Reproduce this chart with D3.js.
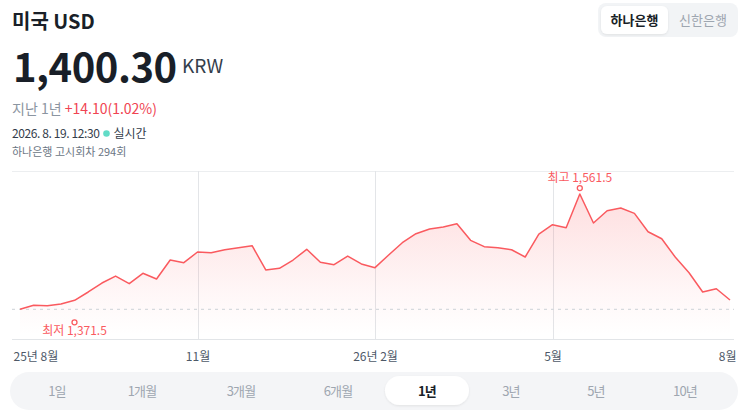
<!doctype html>
<meta charset="utf-8">
<title>미국 USD</title>
<script src="https://cdn.jsdelivr.net/npm/d3@7/dist/d3.min.js"></script>
<style>
  html, body { margin: 0; padding: 0; background: #fff; }
  svg { display: block; font-family: "Noto Sans CJK KR", "Noto Sans", sans-serif; }
</style>
<body>
<script>
// weekly rate, 25.8.19 ~ 26.8.18 (KRW per USD)
var startDate = "2025-08-19";
var rates = [
  1371.5, 1378.1, 1377.4, 1380.2, 1386.3, 1400.0, 1414.8, 1426.3, 1413.7, 1430.8,
  1421.4, 1452.7, 1448.3, 1465.9, 1464.8, 1469.7, 1473.0, 1476.3, 1436.3, 1439.1,
  1452.7, 1470.4, 1449.0, 1445.0, 1459.3, 1446.2, 1440.1, 1461.0, 1481.3, 1496.1,
  1503.8, 1507.1, 1512.6, 1485.2, 1474.7, 1473.0, 1469.7, 1457.7, 1495.6, 1510.9,
  1506.0, 1561.5, 1513.7, 1534.0, 1538.4, 1529.7, 1499.4, 1487.8, 1457.2, 1431.8,
  1400.0, 1405.4, 1386.8
];
var tickDates = ["2025-08-19", "2025-11-18", "2026-02-17", "2026-05-19", "2026-08-18"];
var tickLabels = ["25년 8월", "11월", "26년 2월", "5월", "8월"];
var yDomain = [1322, 1599.5];
var banks = ["하나은행", "신한은행"];
var periods = ["1일", "1개월", "3개월", "6개월", "1년", "3년", "5년", "10년"];
var periodX = [57, 142, 241, 338, 427, 511, 596, 685];
var activePeriod = "1년";

var width = 746, height = 414;
var red = "#f04452", lineRed = "#fa5a5f";

var parse = d3.timeParse("%Y-%m-%d");
var data = rates.map(function(v, i) {
  return { date: d3.timeDay.offset(parse(startDate), i * 7), value: v };
});

var svg = d3.select("body").append("svg")
  .attr("width", width)
  .attr("height", height);

// ---- header ----
svg.append("text").attr("x", 12).attr("y", 29)
  .attr("font-size", 20).attr("font-weight", 700).attr("fill", "#191f28")
  .text("미국 USD");

svg.append("text").attr("x", 13).attr("y", 82)
  .attr("font-size", 40).attr("font-weight", 700).attr("fill", "#191f28")
  .attr("letter-spacing", -0.5)
  .text("1,400.30");
svg.append("text").attr("x", 182).attr("y", 73)
  .attr("font-size", 19).attr("fill", "#333d4b")
  .text("KRW");

var chg = svg.append("text").attr("x", 12).attr("y", 114).attr("font-size", 14);
chg.append("tspan").attr("fill", "#8b95a1").text("지난 1년 ");
chg.append("tspan").attr("fill", red).text("+14.10(1.02%)");

var stamp = svg.append("text").attr("x", 12).attr("y", 138)
  .attr("font-size", 12).attr("fill", "#333d4b")
  .attr("letter-spacing", -0.4)
  .text("2026. 8. 19. 12:30");
var stampEnd = 12 + stamp.node().getComputedTextLength();
svg.append("circle").attr("cx", stampEnd + 7).attr("cy", 133.5).attr("r", 3.3).attr("fill", "#62dcc7");
svg.append("text").attr("x", stampEnd + 14).attr("y", 138)
  .attr("font-size", 12).attr("fill", "#333d4b")
  .text("실시간");
svg.append("text").attr("x", 12).attr("y", 156)
  .attr("font-size", 11).attr("fill", "#6b7684")
  .text("하나은행 고시회차 294회");

// bank toggle
var defs = svg.append("defs");
var sh = defs.append("filter").attr("id", "sh").attr("x", "-20%").attr("y", "-30%")
  .attr("width", "140%").attr("height", "160%");
sh.append("feDropShadow").attr("dx", 0).attr("dy", 1).attr("stdDeviation", 1.2)
  .attr("flood-color", "#000").attr("flood-opacity", 0.08);

svg.append("rect").attr("x", 598).attr("y", 3).attr("width", 140).attr("height", 34)
  .attr("rx", 8).attr("fill", "#f2f4f6");
svg.append("rect").attr("x", 601).attr("y", 6).attr("width", 67).attr("height", 28)
  .attr("rx", 6).attr("fill", "#fff").attr("filter", "url(#sh)");
svg.selectAll(".bank").data(banks).enter().append("text")
  .attr("class", "bank")
  .attr("x", function(d, i) { return i ? 703 : 634.5; })
  .attr("y", 25)
  .attr("text-anchor", "middle")
  .attr("font-size", 13)
  .attr("font-weight", function(d, i) { return i ? 400 : 700; })
  .attr("fill", function(d, i) { return i ? "#9ea6b0" : "#191f28"; })
  .text(function(d) { return d; });

// ---- chart ----
var x = d3.scaleTime()
  .domain(d3.extent(data, function(d) { return d.date; }))
  .range([20, 730]);
var y = d3.scaleLinear().domain(yDomain).range([339.3, 171]);

var left = 12, right = 734;
var minD = data[d3.minIndex(data, function(d) { return d.value; })];
var maxD = data[d3.maxIndex(data, function(d) { return d.value; })];

var grad = defs.append("linearGradient").attr("id", "fillGrad")
  .attr("gradientUnits", "userSpaceOnUse")
  .attr("x1", 0).attr("x2", 0).attr("y1", y(maxD.value)).attr("y2", 335);
grad.append("stop").attr("offset", 0).attr("stop-color", lineRed).attr("stop-opacity", 0.2);
grad.append("stop").attr("offset", 0.7).attr("stop-color", lineRed).attr("stop-opacity", 0.05);
grad.append("stop").attr("offset", 1).attr("stop-color", lineRed).attr("stop-opacity", 0);

// top gridline and bottom axis line
svg.append("line").attr("x1", left).attr("x2", right).attr("y1", 171.5).attr("y2", 171.5)
  .attr("stroke", "#eceef0");
svg.append("line").attr("x1", left).attr("x2", right).attr("y1", 339.5).attr("y2", 339.5)
  .attr("stroke", "#e2e5e8");

// vertical gridlines at inner ticks
svg.selectAll(".vgrid").data(tickDates.slice(1, -1)).enter().append("line")
  .attr("class", "vgrid")
  .attr("x1", function(d) { return Math.round(x(parse(d))) + 0.5; })
  .attr("x2", function(d) { return Math.round(x(parse(d))) + 0.5; })
  .attr("y1", 171).attr("y2", 339)
  .attr("stroke", "#e3e5e8");

var area = d3.area()
  .x(function(d) { return x(d.date); })
  .y0(339)
  .y1(function(d) { return y(d.value); });
svg.append("path").datum(data).attr("d", area).attr("fill", "url(#fillGrad)");

// min dotted line
svg.append("line").attr("x1", left).attr("x2", right)
  .attr("y1", y(minD.value)).attr("y2", y(minD.value))
  .attr("stroke", "#d6dade").attr("stroke-width", 1.2).attr("stroke-dasharray", "3,4");

var line = d3.line()
  .x(function(d) { return x(d.date); })
  .y(function(d) { return y(d.value); });
svg.append("path").datum(data).attr("d", line)
  .attr("fill", "none").attr("stroke", lineRed).attr("stroke-width", 1.5)
  .attr("stroke-linejoin", "round");

// high / low markers
var fmt = d3.format(",.1f");
var hx = x(maxD.date), hy = y(maxD.value);
svg.append("circle").attr("cx", hx).attr("cy", hy - 6).attr("r", 2.5)
  .attr("fill", "#fff").attr("stroke", lineRed).attr("stroke-width", 1.3);
svg.append("text").attr("x", hx).attr("y", hy - 12.5).attr("text-anchor", "middle")
  .attr("font-size", 12).attr("fill", lineRed)
  .text("최고 " + fmt(maxD.value));

var lx = Math.max(x(minD.date), 74.5), ly = y(minD.value);
svg.append("circle").attr("cx", lx).attr("cy", ly + 13).attr("r", 2.5)
  .attr("fill", "#fff").attr("stroke", lineRed).attr("stroke-width", 1.3);
svg.append("text").attr("x", lx).attr("y", ly + 26).attr("text-anchor", "middle")
  .attr("font-size", 12).attr("fill", lineRed)
  .text("최저 " + fmt(minD.value));

// x axis
var xAxis = d3.axisBottom(x)
  .tickValues(tickDates.map(parse))
  .tickFormat(function(d, i) { return tickLabels[i]; })
  .tickSize(0)
  .tickPadding(0);
var gx = svg.append("g").attr("transform", "translate(0,340)").call(xAxis);
gx.select(".domain").remove();
gx.selectAll("text")
  .attr("y", 12.5)
  .attr("font-size", 12)
  .attr("font-family", "'Noto Sans CJK KR', sans-serif")
  .attr("fill", "#4e5968");
gx.selectAll(".tick").filter(function(d, i) { return i === 0; }).select("text")
  .attr("text-anchor", "start").attr("x", -7);
gx.selectAll(".tick").filter(function(d, i) { return i === tickDates.length - 1; }).select("text")
  .attr("text-anchor", "end").attr("x", 6);

// ---- period selector ----
svg.append("rect").attr("x", 10).attr("y", 372).attr("width", 728).attr("height", 38)
  .attr("rx", 19).attr("fill", "#f4f5f7");
var ai = periods.indexOf(activePeriod);
svg.append("rect").attr("x", periodX[ai] - 42).attr("y", 376).attr("width", 84).attr("height", 29)
  .attr("rx", 14.5).attr("fill", "#fff").attr("filter", "url(#sh)");
svg.selectAll(".period").data(periods).enter().append("text")
  .attr("class", "period")
  .attr("x", function(d, i) { return periodX[i]; })
  .attr("y", 395.5)
  .attr("text-anchor", "middle")
  .attr("font-size", 13)
  .attr("letter-spacing", -0.8)
  .attr("font-weight", function(d) { return d === activePeriod ? 700 : 400; })
  .attr("fill", function(d) { return d === activePeriod ? "#191f28" : "#9ea6b0"; })
  .text(function(d) { return d; });
</script>
</body>
